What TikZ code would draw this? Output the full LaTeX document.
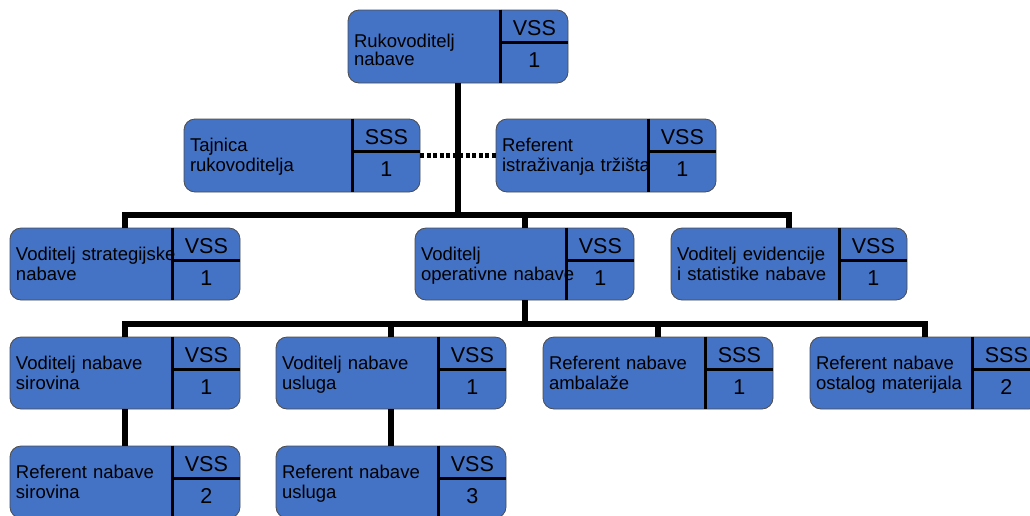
\documentclass[tikz,border=0pt]{standalone}
\usepackage{fontspec}
\setmainfont{Liberation Sans}
\definecolor{unitblue}{RGB}{68,114,196}
\begin{document}
\begin{tikzpicture}[x=1pt,y=-1pt,
  unit/.style 2 args={draw=black!70,line width=0.8pt,fill=unitblue,rounded corners=11pt,
    minimum height=72pt,text width=218pt,inner xsep=6pt,inner ysep=0pt,align=left,
    font=\fontsize{18.5}{20}\selectfont,text height=13pt,text depth=21pt,
    label={[cellfont,anchor=center,xshift=-34pt,yshift=-18.5pt]north east:#1},
    label={[cellfont,anchor=center,xshift=-34pt,yshift=-50pt]north east:#2},
    append after command={([xshift=-68pt]\tikzlastnode.north east) edge[cell] ([xshift=-68pt]\tikzlastnode.south east)
      ([xshift=-68pt,yshift=-33pt]\tikzlastnode.north east) edge[cell] ([yshift=-33pt]\tikzlastnode.north east)}},
  cellfont/.style={font=\fontsize{21.5}{21.5}\selectfont,inner sep=0pt,draw=none,fill=none},
  cell/.style={draw,line width=2.5pt,rounded corners=0pt},
  conn/.style={draw,line width=6pt,line join=miter},
  assist/.style={draw,line width=5pt,dash pattern=on 4pt off 2.5pt}]
\clip (0,0) rectangle (1030,515);
\coordinate (bus1) at (0,215);
\coordinate (bus2) at (0,324);

\node[unit={VSS}{1},text width=208pt,minimum height=73pt,font=\fontsize{18.5}{17}\selectfont,
  text height=15pt,text depth=14pt] (rn) at (458,46.5) {Rukovoditelj\\nabave};
\node[unit={SSS}{1},text width=224pt,minimum height=73pt] (tr) at (302,155.5) {Tajnica\\rukovoditelja};
\node[unit={VSS}{1},text width=208pt,minimum height=73pt] (ri) at (606,155.5) {Referent\\istraživanja tržišta};
\node[unit={VSS}{1}] (vs) at (125,264) {Voditelj strategijske\\nabave};
\node[unit={VSS}{1},text width=207pt] (vo) at (524.5,264) {Voditelj\\operativne nabave};
\node[unit={VSS}{1},text width=224pt] (ve) at (789,264) {Voditelj evidencije\\i statistike nabave};
\node[unit={VSS}{1}] (vns) at (125,373) {Voditelj nabave\\sirovina};
\node[unit={VSS}{1}] (vnu) at (391,373) {Voditelj nabave\\usluga};
\node[unit={SSS}{1}] (rna) at (658,373) {Referent nabave\\ambalaže};
\node[unit={SSS}{2}] (rno) at (925,373) {Referent nabave\\ostalog materijala};
\node[unit={VSS}{2}] (rns) at (125,482) {Referent nabave\\sirovina};
\node[unit={VSS}{3}] (rnu) at (391,482) {Referent nabave\\usluga};

\draw[conn] (rn.south) -- (rn.south |- bus1);
\draw[conn] (vs.north) |- (ve.north |- bus1) -- (ve.north);
\draw[conn] (vo.north) -- (vo.north |- bus1);
\draw[conn] (vo.south) -- (vo.south |- bus2);
\draw[conn] (vns.north) |- (rno.north |- bus2) -- (rno.north);
\draw[conn] (vnu.north) -- (vnu.north |- bus2);
\draw[conn] (rna.north) -- (rna.north |- bus2);
\draw[conn] (vns) -- (rns);
\draw[conn] (vnu) -- (rnu);
\draw[assist] (tr) -- (ri);
\end{tikzpicture}
\end{document}
